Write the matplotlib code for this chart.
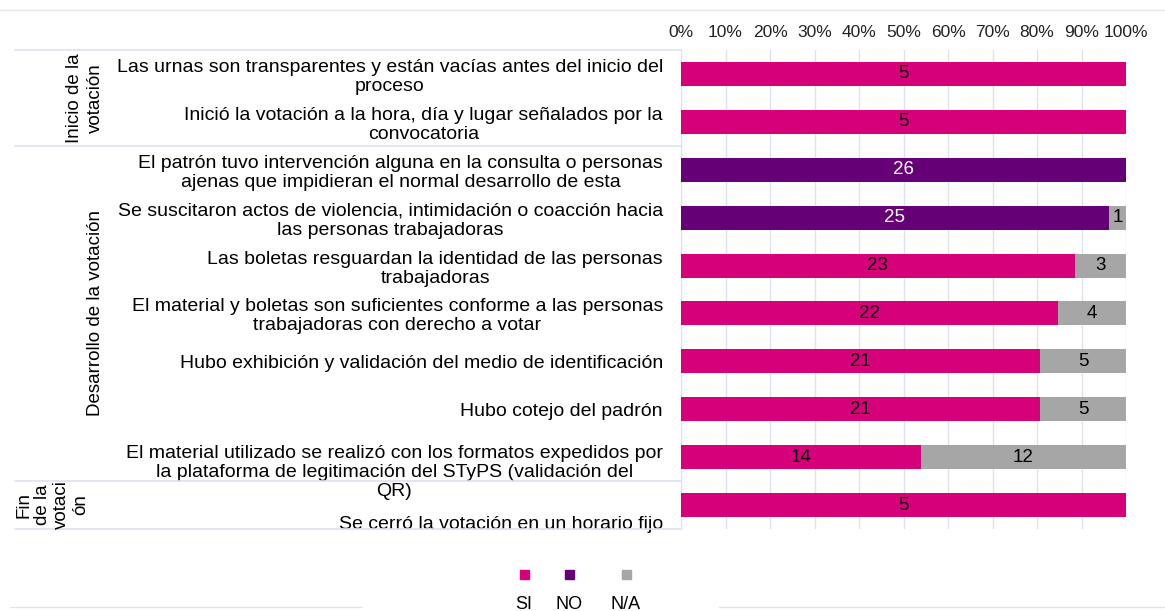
import numpy as np
import matplotlib.pyplot as plt
import matplotlib.transforms as mtrans
from matplotlib.patches import Rectangle

plt.rcParams['font.family'] = ['Liberation Sans', 'DejaVu Sans']

preguntas = [
    "Las urnas son transparentes y están vacías antes del inicio del\nproceso",
    "Inició la votación a la hora, día y lugar señalados por la\nconvocatoria",
    "El patrón tuvo intervención alguna en la consulta o personas\najenas que impidieran el normal desarrollo de esta",
    "Se suscitaron actos de violencia, intimidación o coacción hacia\nlas personas trabajadoras",
    "Las boletas resguardan la identidad de las personas\ntrabajadoras",
    "El material y boletas son suficientes conforme a las personas\ntrabajadoras con derecho a votar",
    "Hubo exhibición y validación del medio de identificación",
    "Hubo cotejo del padrón",
    "El material utilizado se realizó con los formatos expedidos por\nla plataforma de legitimación del STyPS (validación del\nQR)",
    "Se cerró la votación en un horario fijo",
]
si = [5, 5, 0, 0, 23, 22, 21, 21, 14, 5]
no = [0, 0, 26, 25, 0, 0, 0, 0, 0, 0]
na = [0, 0, 0, 1, 3, 4, 5, 5, 12, 0]

series = ["SI", "NO", "N/A"]
colores = ["#D6007A", "#660077", "#A6A6A6"]
color_txt = ["black", "white", "black"]

# grupos: (nombre, primera fila, ultima fila)
grupos = [("Inicio de la\nvotación", 0, 1),
          ("Desarrollo de la votación", 2, 8),
          ("Fin\nde la\nvotaci\nón", 9, 9)]

W, H = 1165, 611
fig = plt.figure(figsize=(W / 100, H / 100), dpi=100)
ax = fig.add_axes([681 / W, 1 - 529 / H, 445 / W, 479 / H])

datos = np.array([si, no, na], dtype=float)
total = datos.sum(axis=0)
pct = datos / total * 100
y = np.arange(len(preguntas))

izq = np.zeros(len(preguntas))
for k in range(3):
    ax.barh(y, pct[k], left=izq, height=0.5, color=colores[k], zorder=3)
    for i in range(len(preguntas)):
        if datos[k, i] > 0:
            ax.text(izq[i] + pct[k, i] / 2, y[i], f"{int(datos[k, i])}",
                    ha='center', va='center', fontsize=13.5,
                    color=color_txt[k], zorder=4)
    izq += pct[k]

ax.set_xlim(0, 100)
ax.set_ylim(len(preguntas) - 0.5, -0.5)
ax.set_xticks(np.arange(0, 101, 10))
ax.set_xticklabels([f"{v}%" for v in range(0, 101, 10)], fontsize=12.5, color='#222222')
ax.xaxis.tick_top()
ax.tick_params(axis='x', length=0, pad=7)
ax.set_yticks(y)
ax.set_yticklabels(preguntas, fontsize=14, multialignment='center', linespacing=1.15)
ax.tick_params(axis='y', length=0, pad=13)
ax.grid(axis='x', color='#DDE2EC', lw=1, zorder=0)
for s in ['top', 'right', 'bottom']:
    ax.spines[s].set_visible(False)
ax.spines['left'].set_color('#DDE2EC')

# las dos ultimas etiquetas quedan algo mas abajo en el original
labs = ax.get_yticklabels()
for i, dy in [(8, -12), (9, -17)]:
    labs[i].set_transform(labs[i].get_transform() +
                          mtrans.ScaledTranslation(0, dy / 100, fig.dpi_scale_trans))

# lineas de la tabla de grupos
tr = ax.get_yaxis_transform()
x0 = (15 - 681) / 445
for yy in [-0.5, 1.5, 8.5, 9.5]:
    ax.plot([x0, 0], [yy, yy], transform=tr, color='#DDE2EC', lw=1.2, clip_on=False)

xg = {0: (85 - 681) / 445, 1: (95 - 681) / 445, 2: (52 - 681) / 445}
esp = {0: 1.3, 1: 1.2, 2: 1.15}
for g, (nombre, a, b) in enumerate(grupos):
    ax.text(xg[g], (a + b) / 2, nombre, transform=tr, rotation=90,
            ha='center', va='center', fontsize=13.5, linespacing=esp[g],
            multialignment='center')

# lineas arriba y abajo
fig.add_artist(plt.Line2D([0, 1], [1 - 10 / H, 1 - 10 / H], color='#E4E7EE', lw=1))
fig.add_artist(plt.Line2D([10 / W, 362 / W], [1 - 607 / H] * 2, color='#E4E7EE', lw=1))
fig.add_artist(plt.Line2D([719 / W, 1], [1 - 607 / H] * 2, color='#E4E7EE', lw=1))

# leyenda
xs = [524, 569, 626]
for k, nombre in enumerate(series):
    fig.add_artist(Rectangle(((xs[k] - 4.5) / W, 1 - 578.5 / H), 9 / W, 9 / H,
                             color=colores[k], transform=fig.transFigure))
    fig.text(xs[k] / W, 1 - 596 / H, nombre, ha='center', va='top', fontsize=13)

fig.savefig('out.png', dpi=100)
